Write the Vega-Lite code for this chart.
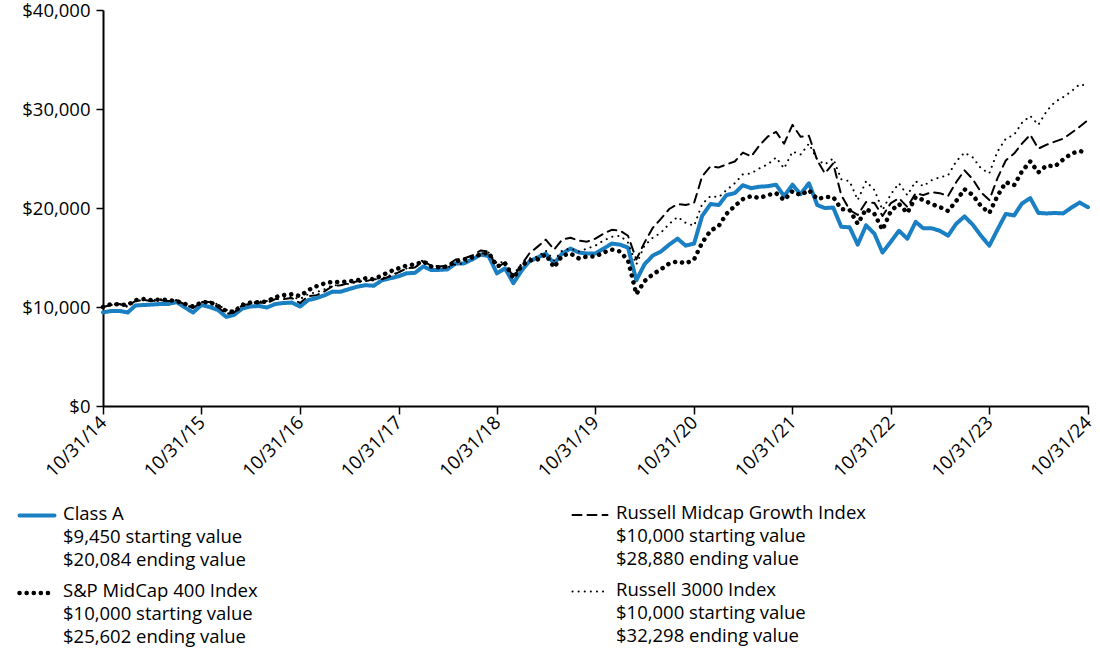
{
  "$schema": "https://vega.github.io/schema/vega-lite/v6.json",
  "width": 985,
  "height": 396,
  "autosize": {"type": "none"},
  "padding": {"left": 103, "top": 10, "right": 12, "bottom": 247},
  "background": "white",
  "config": {"font": "Open Sans", "view": {"stroke": null}},
  "data": {"values": [
    {"d":"2014-10-31","A":9450,"G":10000,"S":10000,"R":10000},
    {"d":"2014-11-30","A":9600,"G":10200,"S":10300,"R":10250},
    {"d":"2014-12-31","A":9600,"G":10300,"S":10250,"R":10300},
    {"d":"2015-01-31","A":9450,"G":10100,"S":10200,"R":10000},
    {"d":"2015-02-28","A":10150,"G":10600,"S":10700,"R":10600},
    {"d":"2015-03-31","A":10200,"G":10700,"S":10800,"R":10700},
    {"d":"2015-04-30","A":10250,"G":10600,"S":10700,"R":10650},
    {"d":"2015-05-31","A":10300,"G":10700,"S":10750,"R":10800},
    {"d":"2015-06-30","A":10300,"G":10600,"S":10700,"R":10600},
    {"d":"2015-07-31","A":10500,"G":10700,"S":10600,"R":10750},
    {"d":"2015-08-31","A":9950,"G":10250,"S":10300,"R":10250},
    {"d":"2015-09-30","A":9450,"G":9900,"S":10050,"R":9900},
    {"d":"2015-10-31","A":10200,"G":10500,"S":10450,"R":10600},
    {"d":"2015-11-30","A":10000,"G":10500,"S":10500,"R":10600},
    {"d":"2015-12-31","A":9700,"G":10000,"S":10100,"R":10250},
    {"d":"2016-01-31","A":9000,"G":9300,"S":9600,"R":9700},
    {"d":"2016-02-29","A":9200,"G":9450,"S":9500,"R":9650},
    {"d":"2016-03-31","A":9850,"G":10200,"S":10200,"R":10350},
    {"d":"2016-04-30","A":10050,"G":10300,"S":10450,"R":10400},
    {"d":"2016-05-31","A":10100,"G":10450,"S":10500,"R":10550},
    {"d":"2016-06-30","A":9950,"G":10400,"S":10550,"R":10600},
    {"d":"2016-07-31","A":10300,"G":10800,"S":11000,"R":11000},
    {"d":"2016-08-31","A":10400,"G":10800,"S":11200,"R":11000},
    {"d":"2016-09-30","A":10450,"G":10900,"S":11300,"R":11000},
    {"d":"2016-10-31","A":10050,"G":10400,"S":11100,"R":10800},
    {"d":"2016-11-30","A":10700,"G":11100,"S":11700,"R":11300},
    {"d":"2016-12-31","A":10900,"G":11200,"S":12100,"R":11500},
    {"d":"2017-01-31","A":11200,"G":11600,"S":12400,"R":11800},
    {"d":"2017-02-28","A":11550,"G":12100,"S":12550,"R":12200},
    {"d":"2017-03-31","A":11550,"G":12200,"S":12500,"R":12200},
    {"d":"2017-04-30","A":11800,"G":12400,"S":12600,"R":12350},
    {"d":"2017-05-31","A":12050,"G":12600,"S":12700,"R":12500},
    {"d":"2017-06-30","A":12200,"G":12600,"S":12900,"R":12600},
    {"d":"2017-07-31","A":12150,"G":12800,"S":12800,"R":12850},
    {"d":"2017-08-31","A":12700,"G":12800,"S":13200,"R":12900},
    {"d":"2017-09-30","A":12900,"G":13100,"S":13600,"R":13200},
    {"d":"2017-10-31","A":13100,"G":13500,"S":13900,"R":13500},
    {"d":"2017-11-30","A":13400,"G":13900,"S":14200,"R":13900},
    {"d":"2017-12-31","A":13450,"G":14000,"S":14300,"R":14000},
    {"d":"2018-01-31","A":14100,"G":14600,"S":14600,"R":14800},
    {"d":"2018-02-28","A":13750,"G":14200,"S":14100,"R":14200},
    {"d":"2018-03-31","A":13750,"G":14100,"S":14000,"R":13900},
    {"d":"2018-04-30","A":13800,"G":14200,"S":14100,"R":14000},
    {"d":"2018-05-31","A":14400,"G":14800,"S":14600,"R":14300},
    {"d":"2018-06-30","A":14400,"G":14900,"S":14800,"R":14400},
    {"d":"2018-07-31","A":14800,"G":15200,"S":15000,"R":14900},
    {"d":"2018-08-31","A":15300,"G":15700,"S":15300,"R":15400},
    {"d":"2018-09-30","A":15150,"G":15600,"S":15500,"R":15500},
    {"d":"2018-10-31","A":13400,"G":14000,"S":14100,"R":14400},
    {"d":"2018-11-30","A":13900,"G":14500,"S":14400,"R":14600},
    {"d":"2018-12-31","A":12400,"G":13000,"S":12900,"R":13300},
    {"d":"2019-01-31","A":13700,"G":14300,"S":14200,"R":14400},
    {"d":"2019-02-28","A":14600,"G":15400,"S":14700,"R":14900},
    {"d":"2019-03-31","A":15000,"G":16100,"S":14800,"R":15100},
    {"d":"2019-04-30","A":15400,"G":16800,"S":15300,"R":15700},
    {"d":"2019-05-31","A":14400,"G":15800,"S":14000,"R":14700},
    {"d":"2019-06-30","A":15400,"G":16800,"S":15200,"R":15700},
    {"d":"2019-07-31","A":15900,"G":17000,"S":15400,"R":15900},
    {"d":"2019-08-31","A":15500,"G":16700,"S":14900,"R":15600},
    {"d":"2019-09-30","A":15400,"G":16600,"S":15100,"R":15900},
    {"d":"2019-10-31","A":15400,"G":16900,"S":15100,"R":16200},
    {"d":"2019-11-30","A":15900,"G":17400,"S":15500,"R":16700},
    {"d":"2019-12-31","A":16400,"G":17800,"S":15800,"R":17100},
    {"d":"2020-01-31","A":16300,"G":17700,"S":15600,"R":17200},
    {"d":"2020-02-29","A":16000,"G":17200,"S":14700,"R":16500},
    {"d":"2020-03-31","A":12700,"G":14800,"S":11300,"R":14300},
    {"d":"2020-04-30","A":14300,"G":16500,"S":12600,"R":16200},
    {"d":"2020-05-31","A":15200,"G":18000,"S":13300,"R":17000},
    {"d":"2020-06-30","A":15600,"G":18900,"S":13800,"R":17500},
    {"d":"2020-07-31","A":16300,"G":19900,"S":14400,"R":18400},
    {"d":"2020-08-31","A":16900,"G":20400,"S":14600,"R":19100},
    {"d":"2020-09-30","A":16200,"G":20300,"S":14400,"R":18500},
    {"d":"2020-10-31","A":16400,"G":20500,"S":14800,"R":18200},
    {"d":"2020-11-30","A":19200,"G":23200,"S":16500,"R":20400},
    {"d":"2020-12-31","A":20400,"G":24200,"S":17700,"R":21200},
    {"d":"2021-01-31","A":20300,"G":24100,"S":18200,"R":21100},
    {"d":"2021-02-28","A":21300,"G":24400,"S":19400,"R":21800},
    {"d":"2021-03-31","A":21500,"G":24700,"S":20200,"R":22500},
    {"d":"2021-04-30","A":22300,"G":25600,"S":20900,"R":23400},
    {"d":"2021-05-31","A":22000,"G":25200,"S":21200,"R":23500},
    {"d":"2021-06-30","A":22150,"G":26300,"S":21000,"R":24000},
    {"d":"2021-07-31","A":22200,"G":27200,"S":21300,"R":24400},
    {"d":"2021-08-31","A":22350,"G":27700,"S":21500,"R":25100},
    {"d":"2021-09-30","A":21200,"G":26500,"S":20800,"R":24000},
    {"d":"2021-10-31","A":22350,"G":28400,"S":21700,"R":25700},
    {"d":"2021-11-30","A":21400,"G":27200,"S":21300,"R":25400},
    {"d":"2021-12-31","A":22500,"G":27300,"S":21800,"R":26500},
    {"d":"2022-01-31","A":20300,"G":24800,"S":20900,"R":24900},
    {"d":"2022-02-28","A":20000,"G":23500,"S":21100,"R":24400},
    {"d":"2022-03-31","A":20050,"G":24500,"S":21100,"R":25000},
    {"d":"2022-04-30","A":18100,"G":21300,"S":19900,"R":22900},
    {"d":"2022-05-31","A":18050,"G":19800,"S":19800,"R":22700},
    {"d":"2022-06-30","A":16300,"G":19300,"S":18400,"R":20800},
    {"d":"2022-07-31","A":18250,"G":20600,"S":19900,"R":22700},
    {"d":"2022-08-31","A":17400,"G":20500,"S":19400,"R":21800},
    {"d":"2022-09-30","A":15500,"G":19200,"S":17800,"R":19800},
    {"d":"2022-10-31","A":16600,"G":20500,"S":19700,"R":21400},
    {"d":"2022-11-30","A":17700,"G":21000,"S":20400,"R":22500},
    {"d":"2022-12-31","A":16900,"G":20100,"S":19500,"R":21300},
    {"d":"2023-01-31","A":18600,"G":21500,"S":21100,"R":22700},
    {"d":"2023-02-28","A":17950,"G":21300,"S":20800,"R":22200},
    {"d":"2023-03-31","A":17950,"G":21600,"S":20400,"R":22800},
    {"d":"2023-04-30","A":17700,"G":21500,"S":20100,"R":23100},
    {"d":"2023-05-31","A":17200,"G":21200,"S":19700,"R":23300},
    {"d":"2023-06-30","A":18400,"G":22600,"S":20700,"R":24700},
    {"d":"2023-07-31","A":19150,"G":23800,"S":21900,"R":25600},
    {"d":"2023-08-31","A":18300,"G":22900,"S":21300,"R":25100},
    {"d":"2023-09-30","A":17200,"G":21600,"S":20200,"R":24000},
    {"d":"2023-10-31","A":16200,"G":20800,"S":19500,"R":23500},
    {"d":"2023-11-30","A":17800,"G":23000,"S":21200,"R":25700},
    {"d":"2023-12-31","A":19400,"G":24800,"S":22600,"R":27000},
    {"d":"2024-01-31","A":19250,"G":25500,"S":22300,"R":27400},
    {"d":"2024-02-29","A":20450,"G":26500,"S":23700,"R":28600},
    {"d":"2024-03-31","A":21000,"G":27400,"S":24700,"R":29300},
    {"d":"2024-04-30","A":19500,"G":26000,"S":23600,"R":28400},
    {"d":"2024-05-31","A":19450,"G":26400,"S":24300,"R":29800},
    {"d":"2024-06-30","A":19500,"G":26700,"S":24200,"R":30700},
    {"d":"2024-07-31","A":19450,"G":27000,"S":24900,"R":31200},
    {"d":"2024-08-31","A":20050,"G":27600,"S":25500,"R":31800},
    {"d":"2024-09-30","A":20550,"G":28200,"S":25750,"R":32500},
    {"d":"2024-10-31","A":20084,"G":28880,"S":25602,"R":32298}
  ]},
  "transform": [{"fold": ["A", "G", "S", "R"], "as": ["series", "value"]}],
  "mark": {"type": "line", "strokeCap": "round", "strokeJoin": "round"},
  "encoding": {
    "x": {
      "field": "d", "type": "temporal",
      "scale": {"type": "utc", "domain": [{"year": 2014, "month": 10, "date": 31, "utc": true}, {"year": 2024, "month": 10, "date": 31, "utc": true}]},
      "axis": {
        "title": null, "format": "%m/%d/%y", "grid": false,
        "values": [
          {"year": 2014, "month": 10, "date": 31, "utc": true},
          {"year": 2015, "month": 10, "date": 31, "utc": true},
          {"year": 2016, "month": 10, "date": 31, "utc": true},
          {"year": 2017, "month": 10, "date": 31, "utc": true},
          {"year": 2018, "month": 10, "date": 31, "utc": true},
          {"year": 2019, "month": 10, "date": 31, "utc": true},
          {"year": 2020, "month": 10, "date": 31, "utc": true},
          {"year": 2021, "month": 10, "date": 31, "utc": true},
          {"year": 2022, "month": 10, "date": 31, "utc": true},
          {"year": 2023, "month": 10, "date": 31, "utc": true},
          {"year": 2024, "month": 10, "date": 31, "utc": true}
        ],
        "labelAngle": -45, "labelAlign": "right", "labelBaseline": "middle",
        "labelFontSize": 18.5, "labelColor": "#000", "labelPadding": 5,
        "domainColor": "#000", "domainWidth": 2, "tickColor": "#000", "tickWidth": 1.5, "tickSize": 8,
        "labelOverlap": false, "labelFlush": false
      }
    },
    "y": {
      "field": "value", "type": "quantitative",
      "scale": {"domain": [0, 40000], "nice": false},
      "axis": {
        "title": null, "values": [0, 10000, 20000, 30000, 40000], "format": "$,.0f", "grid": false,
        "labelFontSize": 18.5, "labelColor": "#000", "labelPadding": 6,
        "domainColor": "#000", "domainWidth": 2, "tickColor": "#000", "tickWidth": 1.5, "tickSize": 7
      }
    },
    "color": {
      "field": "series", "type": "nominal",
      "scale": {"domain": ["A", "S", "G", "R"], "range": ["#1a7fc3", "#000000", "#000000", "#000000"]},
      "legend": {
        "title": null, "orient": "none", "legendX": -86, "legendY": 486,
        "columns": 2, "columnPadding": 310, "rowPadding": 4,
        "symbolType": "stroke", "symbolSize": 1225, "symbolOpacity": 1,
        "labelFontSize": 18.5, "labelColor": "#000", "labelLimit": 0, "labelOffset": 6,
        "labelBaseline": "top",
        "labelExpr": "datum.value == 'A' ? ['Class A', '$9,450 starting value', '$20,084 ending value'] : datum.value == 'G' ? ['Russell Midcap Growth Index', '$10,000 starting value', '$28,880 ending value'] : datum.value == 'S' ? ['S&P MidCap 400 Index', '$10,000 starting value', '$25,602 ending value'] : ['Russell 3000 Index', '$10,000 starting value', '$32,298 ending value']",
        "encode": {
          "labels": {"update": {"lineHeight": {"value": 23}, "dy": {"value": -11}}},
          "symbols": {"update": {"strokeCap": {"value": "round"}}}
        }
      }
    },
    "strokeDash": {
      "field": "series", "type": "nominal",
      "scale": {"type": "ordinal", "domain": ["A", "S", "G", "R"], "range": [[1, 0], [0.1, 7], [9, 6], [0.1, 6]]}
    },
    "strokeWidth": {
      "field": "series", "type": "nominal",
      "scale": {"type": "ordinal", "domain": ["A", "S", "G", "R"], "range": [4, 4.5, 2, 2]}
    }
  }
}
